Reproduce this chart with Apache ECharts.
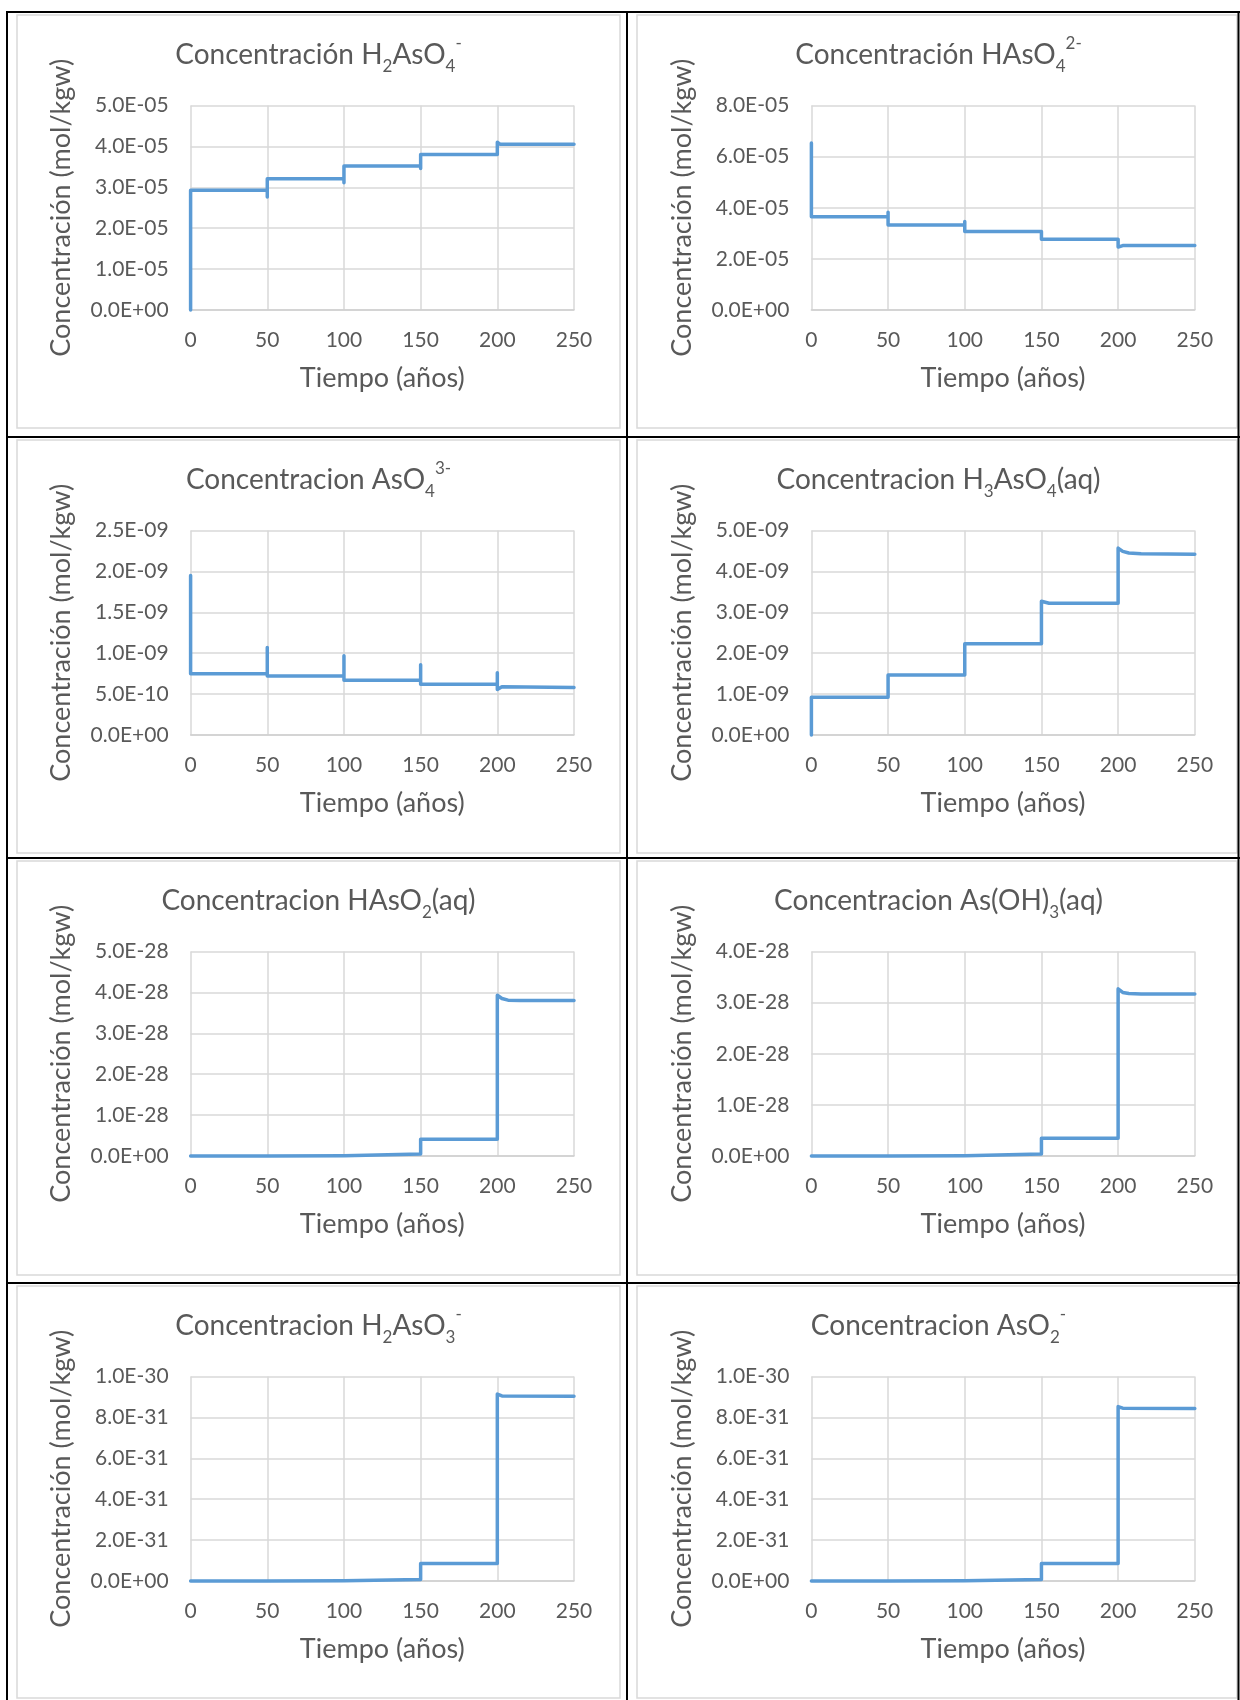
<!DOCTYPE html>
<html><head><meta charset="utf-8">
<script src="https://cdn.jsdelivr.net/npm/echarts@6.0.0/dist/echarts.min.js"></script>
<style>html,body{margin:0;padding:0;background:#fff}#c{width:1240px;height:1700px}</style>
</head><body><div id="c"></div>
<script>
// ---- Data: time (años) and concentration (mol/kgw) ----
const t_H2AsO4 = [0, 0, 50, 50, 50, 100, 100, 100, 150, 150, 150, 200, 200, 202, 250];
const c_H2AsO4 = [0, 2.93e-5, 2.93e-5, 2.76e-5, 3.21e-5, 3.21e-5, 3.11e-5, 3.52e-5, 3.52e-5, 3.46e-5, 3.80e-5, 3.80e-5, 4.10e-5, 4.05e-5, 4.05e-5];

const t_HAsO4 = [0, 0, 50, 50, 50, 100, 100, 100, 150, 150, 150, 200, 200, 200, 203, 250];
const c_HAsO4 = [6.53e-5, 3.65e-5, 3.65e-5, 3.82e-5, 3.33e-5, 3.33e-5, 3.46e-5, 3.07e-5, 3.07e-5, 3.13e-5, 2.77e-5, 2.77e-5, 2.81e-5, 2.46e-5, 2.52e-5, 2.52e-5];

const t_AsO4 = [0, 0, 50, 50, 50, 100, 100, 100, 150, 150, 150, 200, 200, 200, 203, 250];
const c_AsO4 = [1.95e-9, 0.75e-9, 0.75e-9, 1.07e-9, 0.72e-9, 0.72e-9, 0.97e-9, 0.67e-9, 0.67e-9, 0.86e-9, 0.62e-9, 0.62e-9, 0.76e-9, 0.555e-9, 0.59e-9, 0.58e-9];

const t_H3AsO4 = [0, 0, 50, 50, 100, 100, 150, 150, 155, 200, 200, 203, 207, 215, 250];
const c_H3AsO4 = [0, 0.92e-9, 0.92e-9, 1.47e-9, 1.47e-9, 2.23e-9, 2.23e-9, 3.27e-9, 3.22e-9, 3.22e-9, 4.57e-9, 4.49e-9, 4.45e-9, 4.43e-9, 4.42e-9];

const t_HAsO2 = [0, 50, 50, 100, 100, 150, 150, 200, 200, 203, 207, 215, 250];
const c_HAsO2 = [0.0005e-28, 0.0005e-28, 0.006e-28, 0.006e-28, 0.05e-28, 0.05e-28, 0.41e-28, 0.41e-28, 3.93e-28, 3.85e-28, 3.81e-28, 3.80e-28, 3.80e-28];

const t_AsOH3 = [0, 50, 50, 100, 100, 150, 150, 200, 200, 203, 207, 215, 250];
const c_AsOH3 = [0.0004e-28, 0.0004e-28, 0.005e-28, 0.005e-28, 0.04e-28, 0.04e-28, 0.345e-28, 0.345e-28, 3.27e-28, 3.20e-28, 3.18e-28, 3.17e-28, 3.17e-28];

const t_H2AsO3 = [0, 50, 50, 100, 100, 150, 150, 200, 200, 203, 250];
const c_H2AsO3 = [0.001e-31, 0.001e-31, 0.01e-31, 0.01e-31, 0.07e-31, 0.07e-31, 0.85e-31, 0.85e-31, 9.14e-31, 9.05e-31, 9.04e-31];

const t_AsO2 = [0, 50, 50, 100, 100, 150, 150, 200, 200, 203, 250];
const c_AsO2 = [0.001e-31, 0.001e-31, 0.01e-31, 0.01e-31, 0.07e-31, 0.07e-31, 0.85e-31, 0.85e-31, 8.53e-31, 8.45e-31, 8.44e-31];

// Titles (rich-text: m = normal, s = subscript, p = superscript)
const titles = [
  '{m|Concentración H}{s|2}{m|AsO}{s|4}{p|-}',
  '{m|Concentración HAsO}{s|4}{p|2-}',
  '{m|Concentracion AsO}{s|4}{p|3-}',
  '{m|Concentracion H}{s|3}{m|AsO}{s|4}{m|(aq)}',
  '{m|Concentracion HAsO}{s|2}{m|(aq)}',
  '{m|Concentracion As(OH)}{s|3}{m|(aq)}',
  '{m|Concentracion H}{s|2}{m|AsO}{s|3}{p|-}',
  '{m|Concentracion AsO}{s|2}{p|-}'
];
const times = [t_H2AsO4, t_HAsO4, t_AsO4, t_H3AsO4, t_HAsO2, t_AsOH3, t_H2AsO3, t_AsO2];
const concs = [c_H2AsO4, c_HAsO4, c_AsO4, c_H3AsO4, c_HAsO2, c_AsOH3, c_H2AsO3, c_AsO2];
// y axis ticks: max and step (mol/kgw); unit used internally for numeric precision
const yMax  = [5e-5, 8e-5, 2.5e-9, 5e-9, 5e-28, 4e-28, 1e-30, 1e-30];
const yStep = [1e-5, 2e-5, 0.5e-9, 1e-9, 1e-28, 1e-28, 2e-31, 2e-31];
const yUnit = [1e-5, 1e-5, 1e-9, 1e-9, 1e-28, 1e-28, 1e-31, 1e-31];
const xMax = 250, xStep = 50;
const xName = 'Tiempo (años)';
const yName = 'Concentración (mol/kgw)';

// ---- Layout (pixels) ----
const rowLine = [12, 437, 858, 1283];
const plotLeft = [190.6, 811.4];
const plotW = 383.4, plotH = 204.5;
const titleCx = [318.5, 938.5];
const boxX = [[17, 620], [637, 1237]];
const boxY = [[15, 428], [440, 853], [861, 1275], [1286, 1698]];
const FONT = 'Lato';
const TXT = '#595959';

function r9(x) { return Math.round(x * 1e9) / 1e9; }
function sci(v) {
  if (Math.abs(v) < 1e-300) return '0.0E+00';
  const s = v.toExponential(1);
  const parts = s.split('e');
  const n = parseInt(parts[1], 10);
  return parts[0] + 'E' + (n < 0 ? '-' : '+') + String(Math.abs(n)).padStart(2, '0');
}

const richStyles = {
  m: { fontFamily: FONT, fontSize: 28, lineHeight: 40, verticalAlign: 'middle', color: TXT },
  s: { fontFamily: FONT, fontSize: 17, lineHeight: 19, verticalAlign: 'bottom', color: TXT },
  p: { fontFamily: FONT, fontSize: 17, lineHeight: 33, verticalAlign: 'top', color: TXT }
};

const grids = [], xAxes = [], yAxes = [], series = [], titleOpts = [];
for (let i = 0; i < 8; i++) {
  const col = i % 2, row = Math.floor(i / 2);
  const unit = yUnit[i];
  grids.push({ left: plotLeft[col], top: rowLine[row] + 93.5, width: plotW, height: plotH, containLabel: false });
  titleOpts.push({
    text: titles[i], left: titleCx[col], top: rowLine[row] + 23, textAlign: 'center', padding: 0,
    textStyle: { fontFamily: FONT, color: TXT, fontWeight: 'normal', rich: richStyles }
  });
  xAxes.push({
    type: 'value', gridIndex: i, min: 0, max: xMax, interval: xStep,
    name: xName, nameLocation: 'middle', nameGap: 55,
    nameTextStyle: { fontFamily: FONT, fontSize: 27, color: TXT },
    axisLine: { show: true, lineStyle: { color: '#d0d0d0', width: 1.5 } },
    axisTick: { show: false },
    axisLabel: { fontFamily: FONT, fontSize: 21, color: TXT, margin: 20 },
    splitLine: { show: true, lineStyle: { color: '#d9d9d9', width: 1.5 } }
  });
  yAxes.push({
    type: 'value', gridIndex: i, min: 0, max: r9(yMax[i] / unit), interval: r9(yStep[i] / unit),
    name: yName, nameLocation: 'middle', nameGap: 116, nameRotate: 90,
    nameTextStyle: { fontFamily: FONT, fontSize: 27, color: TXT },
    axisLine: { show: false }, axisTick: { show: false },
    axisLabel: { fontFamily: FONT, fontSize: 21, color: TXT, margin: 22, formatter: (v) => sci(v * unit) },
    splitLine: { show: true, lineStyle: { color: '#d9d9d9', width: 1.5 } }
  });
  series.push({
    type: 'line', xAxisIndex: i, yAxisIndex: i, showSymbol: false, symbol: 'none', clip: false,
    lineStyle: { color: '#5b9bd5', width: 3.5, join: 'round', cap: 'round' },
    data: times[i].map((t, k) => [t, concs[i][k] / unit]),
    animation: false
  });
}

// Table borders and chart frames
const graphics = [];
for (let r = 0; r < 4; r++) for (let c = 0; c < 2; c++) {
  graphics.push({ type: 'rect', silent: true, z: 0,
    shape: { x: boxX[c][0], y: boxY[r][0], width: boxX[c][1] - boxX[c][0], height: boxY[r][1] - boxY[r][0] },
    style: { fill: 'none', stroke: '#d9d9d9', lineWidth: 1.5 } });
}
rowLine.forEach(y => graphics.push({ type: 'line', silent: true, z: 10,
  shape: { x1: 6, y1: y, x2: 1240, y2: y }, style: { stroke: '#000', lineWidth: 2 } }));
[7, 627, 1238.5].forEach(x => graphics.push({ type: 'line', silent: true, z: 10,
  shape: { x1: x, y1: 11, x2: x, y2: 1700 }, style: { stroke: '#000', lineWidth: 2 } }));

const chart = echarts.init(document.getElementById('c'), null, { renderer: 'canvas' });
chart.setOption({
  animation: false,
  backgroundColor: '#fff',
  title: titleOpts,
  grid: grids,
  xAxis: xAxes,
  yAxis: yAxes,
  series: series,
  graphic: graphics
});
</script>
</body></html>
